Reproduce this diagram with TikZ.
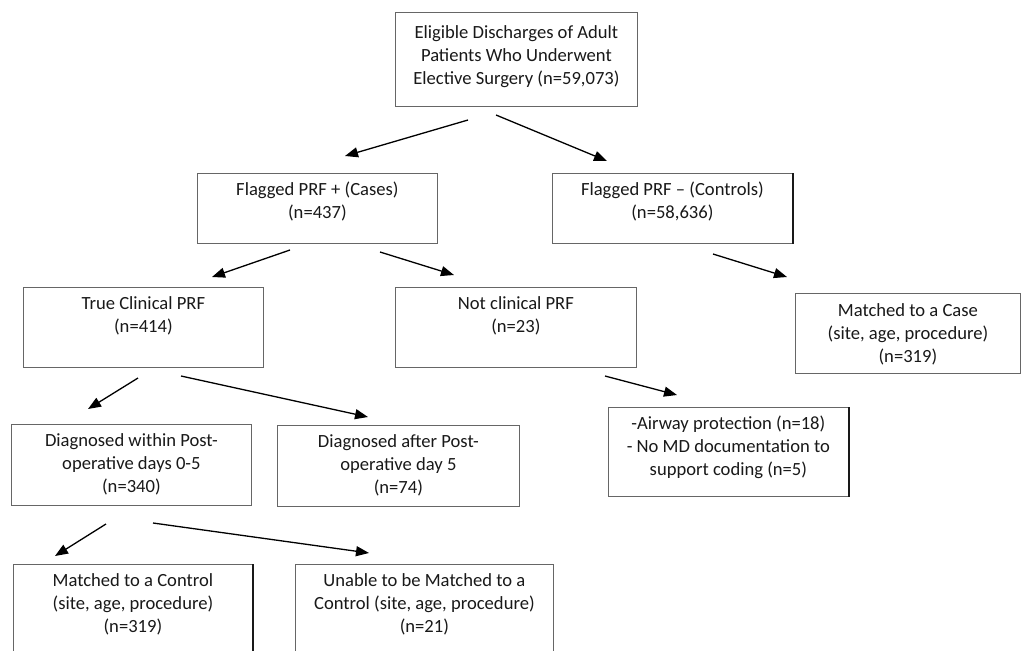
\documentclass[tikz,border=0pt]{standalone}
\usepackage{fontspec}
\setmainfont{Carlito}
\usetikzlibrary{arrows.meta,calc}
\begin{document}
\begin{tikzpicture}[x=1pt,y=-1pt,
 box/.style={draw=black!60,line width=0.8pt,rectangle,inner sep=0pt,anchor=north west},
 txt/.style={anchor=north,align=center,inner sep=0pt,text=black!90,font=\fontsize{18.6}{23}\selectfont},
 arr/.style={line width=1.3pt,-{Triangle[length=13pt,width=10pt]}},
 thickedge/.style={line width=2pt,black!90}]
\useasboundingbox (0,0) rectangle (1021,651);
\fill[white] (0,0) rectangle (1021,651);
\clip (0,0) rectangle (1021,651);
% boxes
\node[box,minimum width=242pt,minimum height=94pt] (top) at (395,12) {};
\node[box,minimum width=240pt,minimum height=70pt] (fp) at (197,173) {};
\node[box,minimum width=240pt,minimum height=70pt] (fm) at (552,173) {};
\node[box,minimum width=240pt,minimum height=80pt] (tc) at (23,287) {};
\node[box,minimum width=241pt,minimum height=80pt] (nc) at (395,287) {};
\node[box,minimum width=225pt,minimum height=80pt] (mcase) at (795,293) {};
\node[box,minimum width=240pt,minimum height=81pt] (dw) at (11,424) {};
\node[box,minimum width=242pt,minimum height=81pt] (da) at (277,425) {};
\node[box,minimum width=240pt,minimum height=89pt] (aw) at (608,407) {};
\node[box,minimum width=239pt,minimum height=120pt] (mctl) at (13,564) {};
\node[box,minimum width=258pt,minimum height=120pt] (un) at (295,564) {};
\draw[thickedge] (fm.north east) -- (fm.south east);
\draw[thickedge] (aw.north east) -- (aw.south east);
\draw[thickedge] (mctl.north east) -- (mctl.south east);
% texts
\node[txt] (topt) at ($(top.north)+(0,13)$) {Eligible Discharges of Adult\\Patients Who Underwent\\Elective Surgery (n=59,073)};
\node[txt] (fpt) at ($(fp.north)+(0,9)$) {Flagged PRF + (Cases)\\(n=437)};
\node[txt] (fmt) at ($(fm.north)+(0,9)$) {Flagged PRF – (Controls)\\(n=58,636)};
\node[txt] (tct) at ($(tc.north)+(0,9)$) {True Clinical PRF\\(n=414)};
\node[txt] (nct) at ($(nc.north)+(0,9)$) {Not clinical PRF\\(n=23)};
\node[txt] (mcaset) at ($(mcase.north)+(0,10)$) {Matched to a Case\\(site, age, procedure)\\(n=319)};
\node[txt] (dwt) at ($(dw.north)+(0,9)$) {Diagnosed within Post-\\operative days 0-5\\(n=340)};
\node[txt] (dat) at ($(da.north)+(0,9)$) {Diagnosed after Post-\\operative day 5\\(n=74)};
\node[txt] (awt) at ($(aw.north)+(0,9)$) {-Airway protection (n=18)\\- No MD documentation to\\support coding (n=5)};
\node[txt] (mctlt) at ($(mctl.north)+(0,9)$) {Matched to a Control\\(site, age, procedure)\\(n=319)};
\node[txt] (unt) at ($(un.north)+(0,9)$) {Unable to be Matched to a\\Control (site, age, procedure)\\(n=21)};
% connector ends
\coordinate (a1s) at (468,120); \coordinate (a1e) at (345,156);
\coordinate (a2s) at (496,115); \coordinate (a2e) at (607,161);
\coordinate (a3s) at (290,250); \coordinate (a3e) at (212,277);
\coordinate (a4s) at (380,252); \coordinate (a4e) at (454,275);
\coordinate (a5s) at (713,254); \coordinate (a5e) at (787,277);
\coordinate (a6s) at (605,376); \coordinate (a6e) at (677,395);
\coordinate (a7s) at (138,378); \coordinate (a7e) at (88,409);
\coordinate (a8s) at (181,376); \coordinate (a8e) at (368,417);
\coordinate (a9s) at (106,524); \coordinate (a9e) at (55,556);
\coordinate (a10s) at (153,523); \coordinate (a10e) at (369,553);
\foreach \i in {1,...,10} \draw[arr] (a\i s) -- (a\i e);
\end{tikzpicture}
\end{document}
